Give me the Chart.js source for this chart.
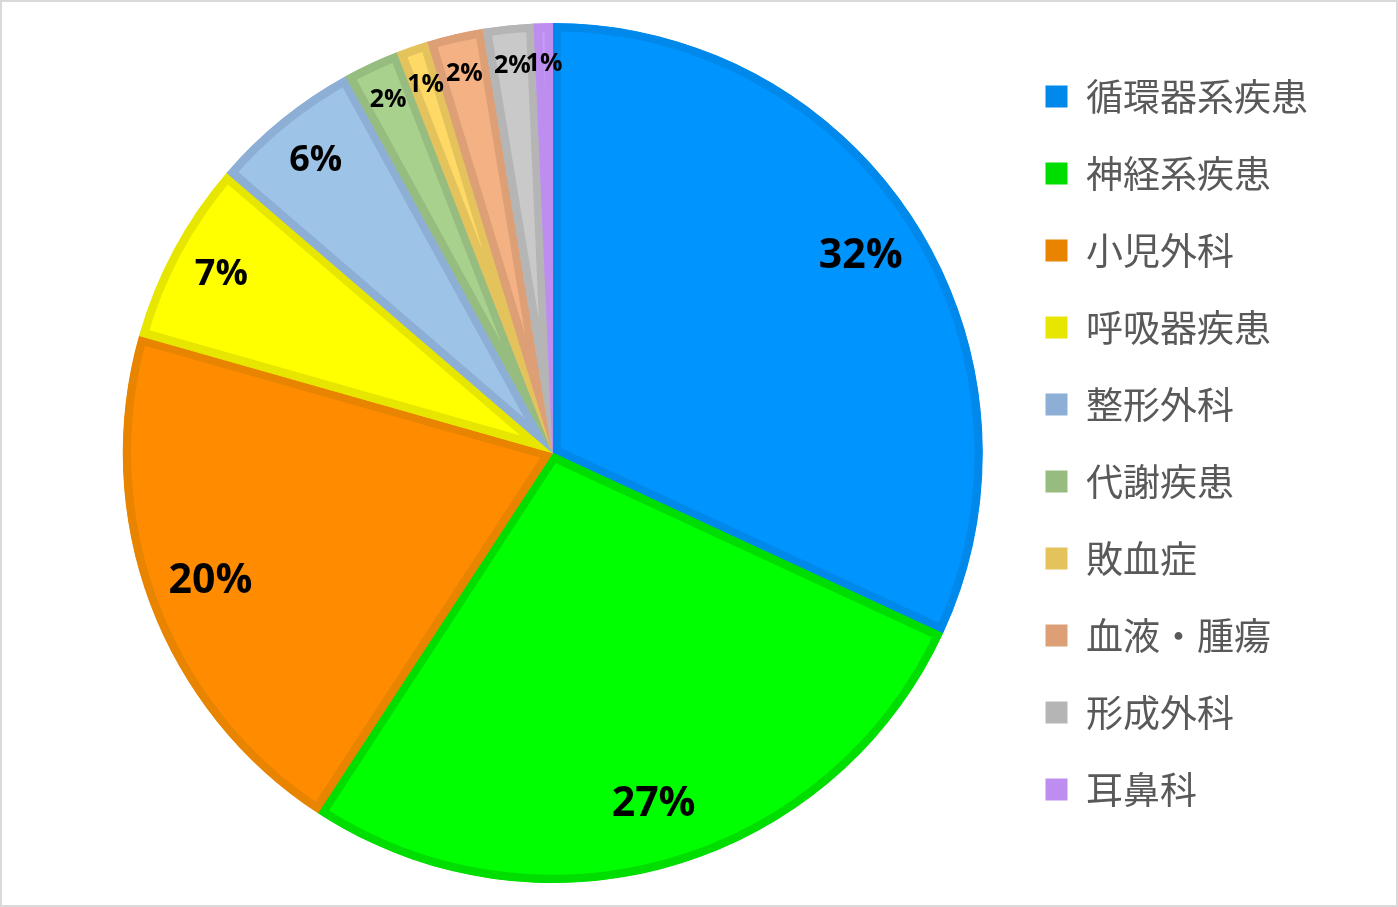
<!DOCTYPE html>
<html lang="ja">

<head>
    <meta charset="UTF-8">
    <title>疾患別割合</title>
    <script src="https://cdn.jsdelivr.net/npm/chart.js@4.4.0/dist/chart.umd.min.js"></script>
    <style>
        html, body {
            margin: 0;
            padding: 0;
            background: #ffffff;
        }

        .chart-frame {
            width: 1398px;
            height: 907px;
            box-sizing: border-box;
            border: 2px solid #d9d9d9;
            background: #ffffff;
        }

        #diseaseChart {
            display: block;
        }
    </style>
</head>

<body>
    <div class="chart-frame">
        <canvas id="diseaseChart" width="1394" height="903"></canvas>
    </div>

    <script>
        // categories and shares (%)
        const categories = ['循環器系疾患', '神経系疾患', '小児外科', '呼吸器疾患', '整形外科',
            '代謝疾患', '敗血症', '血液・腫瘍', '形成外科', '耳鼻科'];
        const shares = [31.9, 27.3, 20.2, 6.9, 5.7, 2.1, 1.2, 2.1, 1.9, 0.7];

        const fillColors = ['#0094FF', '#00FF00', '#FF8C00', '#FFFF00', '#9DC3E6',
            '#A9D18E', '#FFD966', '#F4B183', '#C9C9C9', '#C99CF8'];
        const edgeColors = ['#0088EA', '#00DD00', '#E88400', '#E6E600', '#8DAFD6',
            '#97BC80', '#E5C35C', '#DC9F76', '#B5B5B5', '#BE8DF0'];

        // percent labels inside each slice, near the rim
        const percentLabels = {
            id: 'percentLabels',
            afterDatasetsDraw(chart) {
                const ctx = chart.ctx;
                const meta = chart.getDatasetMeta(0);
                const values = chart.data.datasets[0].data;
                const total = values.reduce((a, b) => a + b, 0);
                ctx.save();
                ctx.fillStyle = '#000000';
                ctx.textAlign = 'center';
                ctx.textBaseline = 'middle';
                meta.data.forEach((arc, i) => {
                    const p = arc.getProps(['x', 'y', 'startAngle', 'endAngle', 'outerRadius'], true);
                    const pct = values[i] / total * 100;
                    const mid = (p.startAngle + p.endAngle) / 2;
                    let k = 0.905;
                    let size = 25;
                    if (pct >= 10) { k = 0.85; size = 41; }
                    else if (pct >= 4) { k = 0.875; size = 36; }
                    const r = p.outerRadius * k;
                    ctx.font = 'bold ' + size + 'px "Open Sans", sans-serif';
                    ctx.fillText(Math.round(pct) + '%', p.x + Math.cos(mid) * r, p.y + Math.sin(mid) * r);
                });
                ctx.restore();
            }
        };

        const ctx = document.getElementById('diseaseChart').getContext('2d');
        new Chart(ctx, {
            type: 'pie',
            data: {
                labels: categories,
                datasets: [{
                    data: shares,
                    backgroundColor: fillColors,
                    borderColor: edgeColors,
                    borderWidth: 8,
                    borderAlign: 'inner',
                    hoverOffset: 0
                }]
            },
            options: {
                responsive: false,
                animation: false,
                radius: 430,
                layout: {
                    padding: { top: 36, bottom: 37, left: 98, right: 78 }
                },
                plugins: {
                    tooltip: { enabled: false },
                    legend: {
                        position: 'right',
                        align: 'start',
                        labels: {
                            boxWidth: 22,
                            boxHeight: 22,
                            padding: 40,
                            color: '#595959',
                            font: { family: '"Noto Sans CJK JP", sans-serif', size: 37 },
                            generateLabels(chart) {
                                const items = Chart.overrides.pie.plugins.legend.labels.generateLabels(chart);
                                items.forEach((item, i) => {
                                    item.fillStyle = edgeColors[i];
                                    item.strokeStyle = edgeColors[i];
                                    item.lineWidth = 0;
                                });
                                return items;
                            }
                        }
                    }
                }
            },
            plugins: [percentLabels]
        });
    </script>
</body>

</html>
